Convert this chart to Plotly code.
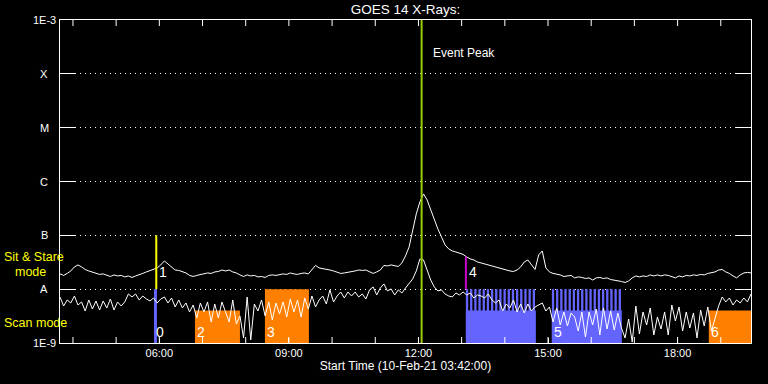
import math
import pandas as pd
import plotly.graph_objects as go

FONT = "Liberation Sans"

start_time = "2021-02-10 03:42:00"
end_time = "2021-02-10 19:42:00"
times = pd.date_range(start_time, periods=193, freq="5min")
hour_ticks = pd.date_range("2021-02-10 04:00:00", "2021-02-10 19:00:00", freq="1h")

# GOES long channel (1-8 A), in units of 1e-8 W/m^2
long_flux_A = [
    1.92, 1.80, 1.96, 2.18, 2.59, 2.82, 2.59, 2.32, 2.18, 2.09,
    1.96, 1.88, 1.92, 1.80, 1.72, 1.84, 1.76, 1.80, 1.69, 1.76,
    1.65, 1.76, 1.84, 1.96, 2.09, 2.23, 2.37, 2.48, 2.82, 3.34,
    2.94, 2.53, 2.27, 2.23, 2.09, 2.00, 1.80, 1.72, 1.80, 1.88,
    1.92, 2.00, 1.96, 2.09, 2.13, 2.27, 2.18, 2.27, 2.09, 2.00,
    1.84, 1.72, 1.84, 1.76, 1.80, 1.69, 1.72, 1.65, 1.80, 1.84,
    1.80, 1.88, 1.92, 1.88, 2.00, 1.92, 1.88, 1.96, 2.00, 1.92,
    2.27, 2.76, 2.48, 2.43, 2.37, 2.27, 2.18, 2.05, 1.96, 2.00,
    2.05, 2.09, 2.18, 2.27, 2.23, 2.27, 2.13, 1.96, 2.09, 2.27,
    2.76, 2.70, 2.82, 2.70, 2.64, 3.07, 4.14, 6.09, 12.6, 25.0,
    41.8, 58.8, 45.5, 29.7, 19.3, 13.1, 9.34, 6.63, 5.59, 5.13,
    4.91, 4.71, 4.43, 3.97, 3.64, 3.49, 3.20, 3.07, 2.94, 2.82,
    2.70, 2.53, 2.48, 2.37, 2.27, 2.18, 2.13, 2.27, 2.59, 3.20,
    3.49, 2.82, 2.32, 4.32, 5.13, 2.48, 2.09, 1.96, 1.92, 1.84,
    1.72, 1.76, 1.80, 1.62, 1.69, 1.65, 1.58, 1.62, 1.48, 1.62,
    1.65, 1.58, 1.62, 1.51, 1.48, 1.45, 1.39, 1.33, 1.42, 1.62,
    1.76, 1.69, 1.76, 1.72, 1.84, 1.76, 1.84, 1.76, 1.84, 1.80,
    1.72, 1.62, 1.76, 1.69, 1.80, 1.76, 1.84, 1.80, 1.88, 1.84,
    1.96, 2.05, 2.09, 2.27, 2.32, 2.09, 1.96, 1.76, 1.62, 1.84,
    2.00, 2.05, 2.00,
]

# GOES short channel (0.5-4 A), in units of 1e-9 W/m^2
short_flux_n = [
    7.16, 4.87, 6.30, 5.54, 7.47, 5.08, 5.78, 3.93, 6.30, 4.28,
    6.03, 4.10, 6.03, 4.47, 6.57, 4.10, 5.78, 4.87, 5.78, 8.14,
    7.16, 8.14, 6.30, 7.47, 6.57, 6.03, 6.86, 5.54, 6.57, 7.16,
    5.54, 6.86, 4.67, 6.30, 4.47, 5.54, 3.77, 5.08, 2.92, 5.54,
    3.77, 5.78, 2.46, 5.31, 2.92, 5.78, 3.77, 2.46, 6.30, 2.25,
    3.18, 1.24, 7.16, 1.14, 5.31, 3.93, 6.30, 3.18, 5.78, 2.68,
    5.54, 3.46, 5.78, 3.04, 6.57, 3.77, 6.30, 3.04, 6.86, 4.28,
    7.47, 4.67, 6.30, 7.47, 5.31, 9.67, 5.78, 7.47, 8.87, 6.86,
    8.87, 7.47, 8.87, 7.16, 8.14, 6.57, 9.67, 11.0, 7.80, 10.5,
    12.5, 9.26, 10.1, 7.80, 9.67, 8.50, 10.5, 13.0, 15.5, 21.8,
    36.4, 34.9, 22.7, 14.8, 11.0, 9.26, 9.67, 8.14, 7.47, 7.16,
    8.50, 7.80, 8.87, 7.80, 8.50, 6.86, 7.80, 7.47, 6.86, 8.14,
    6.30, 5.54, 6.30, 3.93, 5.31, 4.47, 6.30, 3.77, 5.31, 3.61,
    5.31, 3.93, 4.67, 5.08, 5.54, 3.93, 4.67, 2.46, 4.47, 2.16,
    3.77, 2.07, 3.61, 3.04, 1.67, 3.77, 1.29, 3.77, 2.16, 4.28,
    1.41, 4.47, 1.82, 3.93, 1.74, 3.61, 1.90, 1.24, 2.79, 1.04,
    4.87, 1.47, 3.77, 2.16, 4.47, 1.41, 3.04, 1.82, 3.77, 1.41,
    5.08, 2.56, 4.67, 1.67, 3.77, 1.90, 3.61, 1.24, 4.10, 2.07,
    4.67, 1.67, 2.92, 4.87, 7.16, 5.78, 6.86, 5.08, 6.30, 5.54,
    6.86, 5.78, 8.14,
]

class_values = [1e-9, 1e-8, 1e-7, 1e-6, 1e-5, 1e-4, 1e-3]
class_labels = ["1E-9", "A", "B", "C", "M", "X", "1E-3"]

event_peak_time = "2021-02-10 12:04:23"

# Scan-mode observations
scan_ids = ["0", "2", "3", "", "5", "6"]
scan_start = ["2021-02-10 05:52:36", "2021-02-10 06:49:30", "2021-02-10 08:26:42",
              "2021-02-10 13:05:54", "2021-02-10 15:05:20", "2021-02-10 18:43:23"]
scan_end = ["2021-02-10 05:56:42", "2021-02-10 07:52:00", "2021-02-10 09:27:50",
            "2021-02-10 14:43:07", "2021-02-10 16:42:33", "2021-02-10 19:45:54"]
scan_top = [1e-8, 4e-9, 1e-8, 4e-9, 4e-9, 4e-9]
scan_colors = ["#6464ff", "#ff8000", "#ff8000", "#6464ff", "#6464ff", "#ff8000"]
scan_rastered = [False, False, False, True, True, False]
raster_cadence_min = 5.8
raster_width_min = 3.2

# Sit & stare observations
sit_ids = ["1", "4"]
sit_time = ["2021-02-10 05:55:45", "2021-02-10 13:05:54"]
sit_top = [1e-7, 4e-8]
sit_colors = ["#ffff00", "#cc00cc"]

long_flux = [v * 1e-8 for v in long_flux_A]
short_flux = [v * 1e-9 for v in short_flux_n]

fig = go.Figure()
fig.add_trace(go.Scatter(x=times, y=long_flux, mode="lines",
                         line=dict(color="white", width=1), showlegend=False))
fig.add_trace(go.Scatter(x=times, y=short_flux, mode="lines",
                         line=dict(color="white", width=1), showlegend=False))

# hourly tick marks along the top and bottom frame, drawn as a trace on a
# hidden 0..1 overlay axis
tick_frac = 6 / 323
tick_x, tick_y = [], []
for ht in hour_ticks:
    tick_x += [ht, ht, None, ht, ht, None]
    tick_y += [1 - tick_frac, 1, None, 0, tick_frac, None]
fig.add_trace(go.Scatter(x=tick_x, y=tick_y, yaxis="y2", mode="lines",
                         line=dict(color="white", width=1), hoverinfo="skip",
                         connectgaps=False, showlegend=False))

shapes = []
annotations = []
lab_font = dict(color="white", size=14, family=FONT)
for sid, s, e, top, col, rast in zip(scan_ids, scan_start, scan_end, scan_top,
                                     scan_colors, scan_rastered):
    shapes.append(dict(type="rect", xref="x", yref="y", x0=s, x1=e, y0=1e-9, y1=top,
                       fillcolor=col, line=dict(width=0), layer="between"))
    if rast:
        t = pd.Timestamp(s)
        te = pd.Timestamp(e)
        while t < te:
            t1 = min(t + pd.Timedelta(minutes=raster_width_min), te)
            shapes.append(dict(type="rect", xref="x", yref="y", x0=t, x1=t1,
                               y0=1e-9, y1=1e-8, fillcolor=col, line=dict(width=0),
                               layer="between"))
            t = t + pd.Timedelta(minutes=raster_cadence_min)
    if sid:
        annotations.append(dict(x=s, y=-8.80, xref="x", yref="y", text=sid,
                                showarrow=False, xanchor="left", xshift=0,
                                font=lab_font))

for sid, t, top, col in zip(sit_ids, sit_time, sit_top, sit_colors):
    shapes.append(dict(type="line", xref="x", yref="y", x0=t, x1=t, y0=1e-8, y1=top,
                       line=dict(color=col, width=2), layer="above"))
    annotations.append(dict(x=t, y=-7.68, xref="x", yref="y", text=sid,
                            showarrow=False, xanchor="left", xshift=1, font=lab_font))

shapes.append(dict(type="line", xref="x", yref="paper", x0=event_peak_time,
                   x1=event_peak_time, y0=0, y1=1,
                   line=dict(color="#99cc00", width=2), layer="above"))
annotations.append(dict(x=event_peak_time, y=0.925, xref="x", yref="paper",
                        text="Event Peak", showarrow=False, xanchor="left", xshift=9,
                        font=dict(color="white", size=12, family=FONT)))

for v, lab in zip(class_values, class_labels):
    annotations.append(dict(x=-16 / 691, y=math.log10(v),
                            xref="paper", yref="y", text=lab, showarrow=False,
                            xanchor="center", yanchor="middle",
                            font=dict(color="white", size=11, family=FONT)))

yel = dict(color="#ffff00", size=12.5, family=FONT)
annotations.append(dict(x=-58 / 691, y=(343 - 257) / 323, xref="paper", yref="paper",
                        text="Sit & Stare", showarrow=False, xanchor="left",
                        yanchor="middle", font=yel))
annotations.append(dict(x=-47 / 691, y=(343 - 272) / 323, xref="paper", yref="paper",
                        text="mode", showarrow=False, xanchor="left",
                        yanchor="middle", font=yel))
annotations.append(dict(x=-58 / 691, y=(343 - 323) / 323, xref="paper", yref="paper",
                        text="Scan mode", showarrow=False, xanchor="left",
                        yanchor="middle", font=yel))

fig.update_layout(
    width=768, height=384,
    margin=dict(l=60, r=17, t=20, b=41, autoexpand=False),
    paper_bgcolor="black", plot_bgcolor="black",
    title=dict(text="GOES 14 X-Rays:", x=0.5, xref="paper", y=1 - 9 / 384,
               yref="container", xanchor="center", yanchor="middle",
               font=dict(color="white", size=13.5, family=FONT)),
    shapes=shapes, annotations=annotations,
    xaxis=dict(type="date", range=[start_time, end_time], showline=True,
               linecolor="white", linewidth=1, mirror=True, ticks="inside",
               ticklen=5, tickcolor="white", tickformat="%H:%M",
               dtick=3 * 3600 * 1000, tick0="2021-02-10 00:00:00",
               showgrid=False, zeroline=False, automargin=False,
               tickfont=dict(color="white", size=11, family=FONT),
               title=dict(text="Start Time (10-Feb-21 03:42:00)", standoff=3,
                          font=dict(color="white", size=12, family=FONT))),
    yaxis=dict(type="log", range=[-9, -3], showline=True, linecolor="white",
               linewidth=1, mirror="ticks", ticks="inside", ticklen=15,
               tickcolor="white", tickvals=class_values, showticklabels=False,
               showgrid=True, gridcolor="white", griddash="1px,4px", gridwidth=1,
               zeroline=False, automargin=False),
    yaxis2=dict(range=[0, 1], overlaying="y", visible=False, fixedrange=True),
    showlegend=False,
)

fig.write_html("out.html", config={"displayModeBar": False},
               post_script="document.body.style.margin='0px';document.body.style.background='black';")
